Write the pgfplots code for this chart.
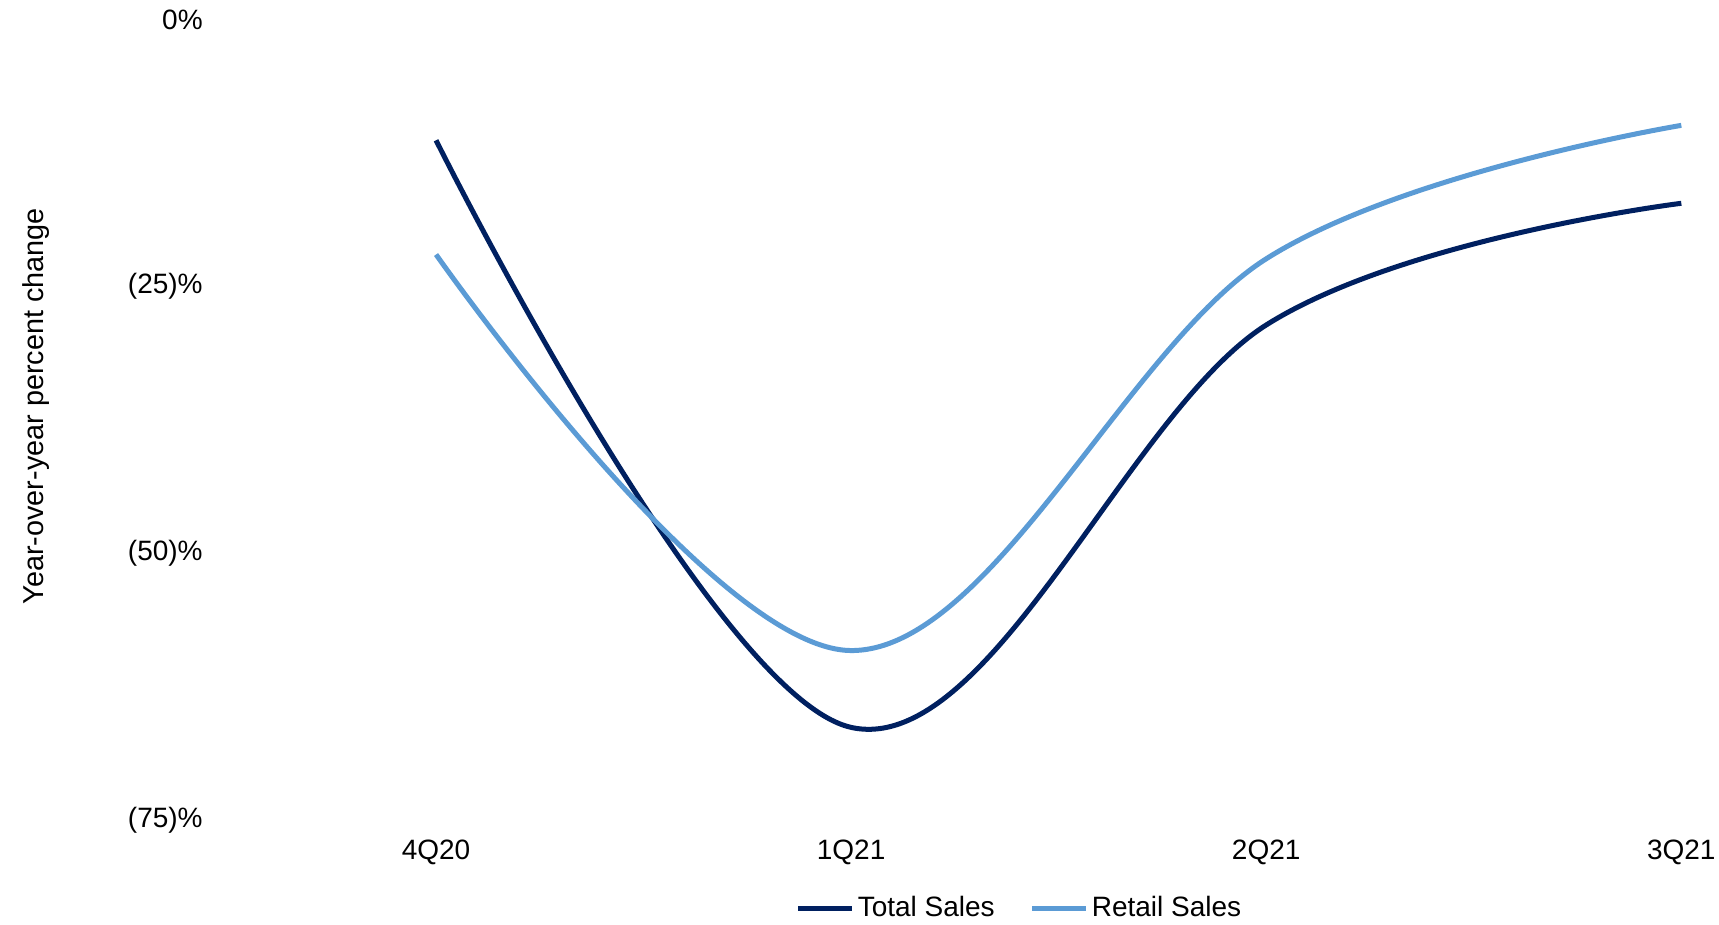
\documentclass[border=0pt]{standalone}
\usepackage{pgfplots}
\pgfplotsset{compat=1.18}
\usepackage{fontspec}
\setmainfont{Liberation Sans}
\definecolor{navy}{HTML}{002060}
\definecolor{lblue}{HTML}{5B9BD5}
\begin{document}
\begin{tikzpicture}
\begin{axis}[
  x=207.5pt, y=5.336pt,
  xmin=-0.53, xmax=3.05, ymin=-75, ymax=0,
  axis line style={draw=none},
  major tick length=0pt,
  xtick={0,1,2,3},
  xticklabels={4Q20,1Q21,2Q21,3Q21},
  ytick={0,-25,-50,-75},
  yticklabels={0\%,(25)\%,(50)\%,(75)\%},
  tick label style={font=\fontsize{14}{16}\selectfont, text=black},
  yticklabel style={anchor=east, inner xsep=0pt, xshift=-6.5pt},
  xticklabel style={yshift=-6.5pt},
  ylabel={Year-over-year percent change},
  ylabel style={font=\fontsize{14.4}{16}\selectfont, at={(axis description cs:-0.121,0.517)}, rotate=0, anchor=center},
  legend style={draw=none, font=\fontsize{14}{16}\selectfont, legend columns=2,
    at={(axis description cs:0.541,-0.11)}, anchor=center,
    nodes={inner xsep=1.5pt},
    /tikz/every even column/.append style={column sep=16pt}},
  legend image code/.code={\draw[#1, line width=2.5pt] (0cm,0cm) -- (27pt,0cm);},
  clip=false,
]
\addplot[navy, line width=2.5pt, smooth, tension=0.6] coordinates {(0,-11.3) (1,-66.3) (2,-28.6) (3,-17.2)};
\addlegendentry{Total Sales}
\addplot[lblue, line width=2.5pt, smooth, tension=0.6] coordinates {(0,-22.0) (1,-59.1) (2,-22.4) (3,-9.9)};
\addlegendentry{Retail Sales}
\coordinate (bbl) at (axis description cs:-0.1454,-0.130);
\coordinate (btr) at (axis description cs:1.0114,1.0246);
\end{axis}
\pgfresetboundingbox
\path[use as bounding box] (bbl) rectangle (btr);
\end{tikzpicture}
\end{document}
